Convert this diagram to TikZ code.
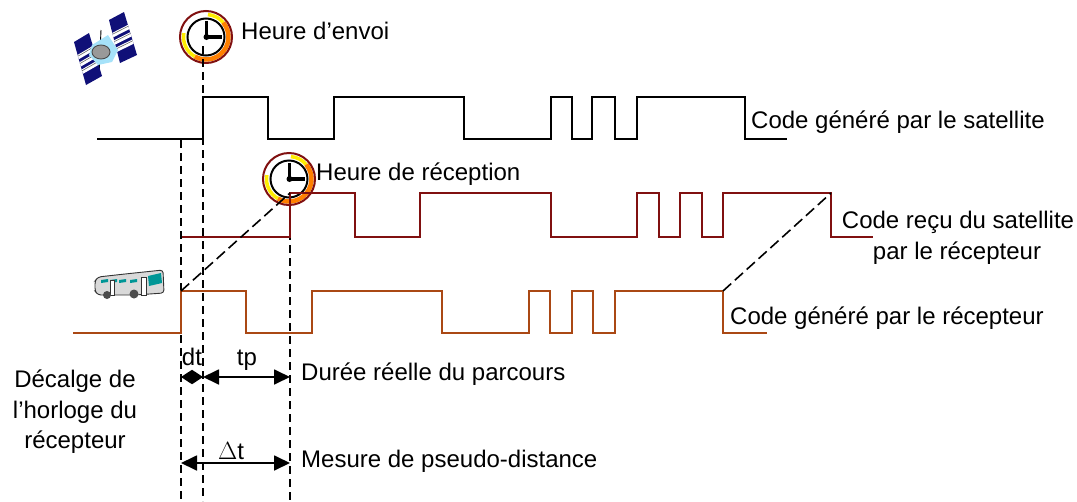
\documentclass[tikz,border=0pt]{standalone}
\usepackage{fontspec}
\setmainfont{Liberation Sans}
\definecolor{sigred}{RGB}{128,16,16}
\definecolor{sigbrown}{RGB}{170,72,20}
\definecolor{satnavy}{RGB}{16,16,120}
\definecolor{busteal}{RGB}{0,150,150}
\usetikzlibrary{arrows.meta,calc}
\newcommand{\satpanel}[4]{%
  \fill[satnavy] (#1) -- (#2) -- (#3) -- (#4) -- cycle;
  \foreach \t in {0.30,0.47,0.64}
    \fill[white] ($(#1)!\t!(#4)$) -- ($(#2)!\t!(#3)$) -- ($(#2)!\t+0.10!(#3)$) -- ($(#1)!\t+0.10!(#4)$) -- cycle;
  \foreach \t in {0.33,0.50,0.67}
    \draw[black!60,line width=0.6pt] ($(#1)!\t!(#4)$) -- ($(#2)!\t!(#3)$);
}
\tikzset{
  txtlab/.style={inner sep=0pt,anchor=base west,font=\fontsize{24}{29}\selectfont},
  code/.style={line width=1.7pt},
  guide/.style={black,line width=2.6pt,dash pattern=on 8pt off 5pt},
  slant/.style={black,line width=1.6pt,dash pattern=on 11pt off 5pt},
  spanarrow/.style={black,line width=1.8pt,{Triangle[length=16pt,width=15pt]}-{Triangle[length=16pt,width=15pt]}},
  pics/horloge/.style={code={
    \fill[white] (0,0) circle (27);
    \draw[yellow!95!orange,line width=3.5pt] (-85:22.5) arc (-85:-40:22.5);
    \draw[orange,line width=4.5pt] (-40:22.5) arc (-40:120:22.5);
    \draw[yellow!95!orange,line width=3.5pt] (120:22.5) arc (120:190:22.5);
    \draw[sigred,line width=2pt] (0,0) circle (26);
    \draw[black,line width=2pt,fill=white] (0,0) circle (18.5);
    \draw[black,line width=3.4pt] (0.5,-16) -- (0.5,0) -- (16,0);
    \fill[black] (0.5,0) circle (3);
  }}
}
\begin{document}
\begin{tikzpicture}[x=1pt,y=-1pt]
\useasboundingbox (0,0) rectangle (1077,501);
% satellite
\draw[black,line width=0.9pt] (101,30) -- (99,75);
\satpanel{74,42}{89,33}{102,76}{86,85}
\satpanel{109,20}{124,12}{137,55}{120,63}
\fill[cyan!35] (92,45) -- (108,35) -- (118,50) -- (112,62) -- (98,65) -- (89,55) -- cycle;
\draw[black!70,line width=0.9pt,fill=black!40] (101,52) ellipse (9 and 7);
% clocks
\pic at (206,37) {horloge};
\coordinate (envoi) at (203,46);
\coordinate (envoibas) at (203,501);
% black code
\draw[black,code] (97,139) -- (203,139) |- (268,97) |- (334,139) |- (464,97) |- (551,139) |- (572,97) |- (592,139) |- (615,97) |- (637,139) |- (745,97) |- (787,139);
% dashed guides
\draw[guide] (envoi) -- (envoibas);
\coordinate (dtbas) at (181,501);
\coordinate (dthaut) at (181,140);
\draw[guide] (dthaut) -- (dtbas);
\pic at (289,179) {horloge};
\coordinate (tphaut) at (290,193);
\coordinate (tpbas) at (290,501);
\draw[guide] (tphaut) -- (tpbas);
% red code
\draw[sigred,code] (182,237) -- (290,237) |- (355,193) |- (420,237) |- (551,193) |- (637,237) |- (659,193) |- (680,237) |- (702,193) |- (723,237) |- (831,193) |- (873,237);
% brown code
\draw[sigbrown,code] (73,333) -- (181,333) |- (246,291) |- (312,333) |- (442,291) |- (529,333) |- (550,291) |- (572,333) |- (593,291) |- (615,333) |- (723,291) |- (767,333);
% slanted dashes
\coordinate (brun1) at (181,291);
\coordinate (brun2) at (723,291);
\coordinate (rouge1) at (290,193);
\coordinate (rouge2) at (831,193);
\draw[slant] (brun1) -- (rouge1);
\draw[slant] (brun2) -- (rouge2);
% bus
\begin{scope}[shift={(95,270)}]
  \draw[black!80,line width=0.9pt,fill=black!15,rounded corners=3pt] (0,11) -- (3,7) -- (30,4) -- (68,0) -- (69,23) -- (40,25) -- (3,25) -- (0,21) -- cycle;
  \fill[busteal] (53,6) -- (66,3) -- (67,13) -- (54,16) -- cycle;
  \foreach \x in {6,15,24,35}
    \fill[busteal] (\x,10) -- ++(7,-1) -- ++(0,3) -- ++(-7,1) -- cycle;
  \draw[black!80,fill=white] (15,10) rectangle (19,25);
  \draw[black!80,fill=white] (46,7) rectangle (51,25);
  \fill[black!70] (12,25) circle (4);
  \fill[black!70] (39,24) circle (4.5);
\end{scope}
% spans
\coordinate (dta) at (181,377);
\coordinate (dtb) at (203,377);
\coordinate (tpb) at (290,377);
\coordinate (mesa) at (181,463);
\coordinate (mesb) at (290,463);
\draw[black,line width=1.8pt,{Triangle[length=11pt,width=14pt]}-{Triangle[length=11pt,width=14pt]}] (dta) -- (dtb);
\draw[spanarrow] (dtb) -- (tpb);
\draw[spanarrow] (mesa) -- (mesb);
% labels
\node[txtlab] (lenvoi) at (241,39) {Heure d’envoi};
\node[txtlab] (lreception) at (316,180) {Heure de réception};
\node[txtlab] (lsat) at (751,128) {Code généré par le satellite};
\node[txtlab,anchor=base] (lrecu) at (958,228) {Code reçu du satellite};
\node[txtlab,anchor=base] (lrecu2) at (957,259) {par le récepteur};
\node[txtlab] (lrec) at (730,324) {Code généré par le récepteur};
\node[txtlab,anchor=base] (ldt) at (192,365) {dt};
\node[txtlab,anchor=base] (ltp) at (247,365) {tp};
\node[txtlab,anchor=base] (ldelta) at (231,459) {$\Delta$t};
\node[txtlab] (lduree) at (301,380) {Durée réelle du parcours};
\node[txtlab] (lmesure) at (301,467) {Mesure de pseudo-distance};
\node[txtlab,anchor=base] (ldec1) at (75,387) {Décalge de};
\node[txtlab,anchor=base] (ldec2) at (75,418) {l’horloge du};
\node[txtlab,anchor=base] (ldec3) at (75,448) {récepteur};
\end{tikzpicture}
\end{document}
